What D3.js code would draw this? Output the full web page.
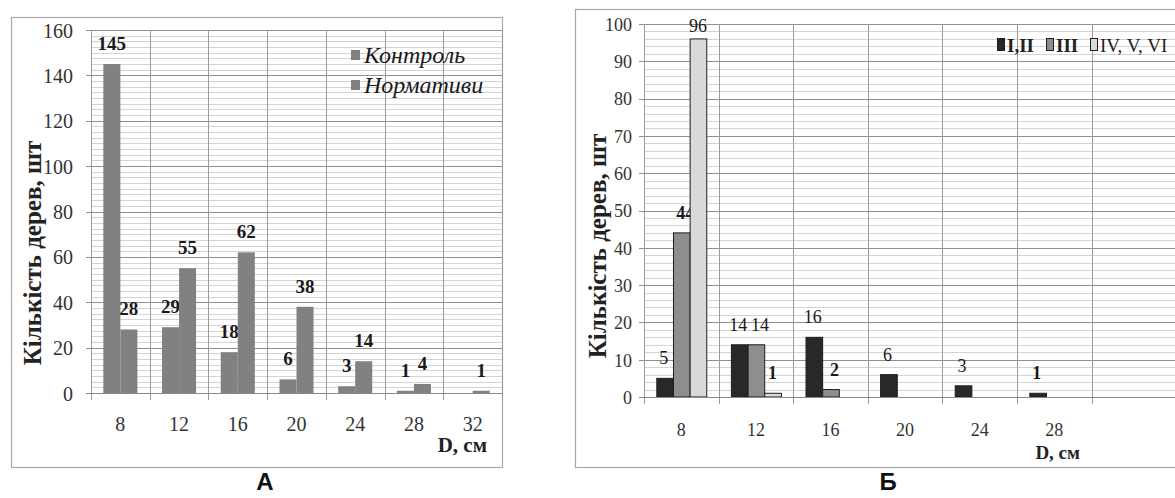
<!DOCTYPE html>
<html><head><meta charset="utf-8">
<script src="https://cdn.jsdelivr.net/npm/d3@7"></script>
<style>
body{margin:0;background:#fff;overflow:hidden}svg{display:block}
svg text{font-family:'Liberation Serif','Times New Roman',serif}
svg text.sans{font-family:'Liberation Sans',Arial,sans-serif}
</style>
</head><body>
<svg id="c" width="1175" height="498"></svg>
<script>
// ---------- DATA ----------
const catsA = [8, 12, 16, 20, 24, 28, 32];
const seriesA = ["Контроль", "Нормативи"];
const controlA = [145, 29, 18, 6, 3, 1, null];
const normsA = [28, 55, 62, 38, 14, 4, 1];
const yTicksA = [0, 20, 40, 60, 80, 100, 120, 140, 160];

const catsB = [8, 12, 16, 20, 24, 28];
const seriesB = ["I,II", "III", "IV, V, VI"];
const s12B = [5, 14, 16, 6, 3, 1];
const s3B = [44, 14, 2, null, null, null];
const s456B = [96, 1, null, null, null, null];
const boldB = [[false, false, false, false, false, true], [true, false, true], [false, true]];
const yTicksB = [0, 10, 20, 30, 40, 50, 60, 70, 80, 90, 100];

const yTitle = "Кількість дерев, шт";
const xTitle = "D, см";

// ---------- DRAW ----------
const svg = d3.select("#c");

function panel(o) {
  const g = svg.append("g");
  g.append("rect").attr("x", o.frame[0] + 0.5).attr("y", o.frame[1] + 0.5).attr("width", o.frame[2]).attr("height", o.frame[3])
    .attr("fill", "#fff").attr("stroke", "#a8a8a8").attr("stroke-width", 1.2);
  const x = d3.scaleBand().domain(o.cats).range([o.x0, o.x1]).padding(0);
  const y = d3.scaleLinear().domain([0, o.yMax]).range([o.yB, o.yT]);
  const minor = d3.range(0, o.yMax + 1e-9, o.minor);
  g.append("g").selectAll("line").data(minor).join("line")
    .attr("x1", o.x0).attr("x2", o.gridRight).attr("y1", d => Math.round(y(d)) + 0.5).attr("y2", d => Math.round(y(d)) + 0.5)
    .attr("stroke", "#d4d4d4").attr("stroke-width", 1);
  g.append("g").selectAll("line").data(o.yTicks).join("line")
    .attr("x1", o.x0 - 5).attr("x2", o.gridRight).attr("y1", d => Math.round(y(d)) + 0.5).attr("y2", d => Math.round(y(d)) + 0.5)
    .attr("stroke", "#8f8f8f").attr("stroke-width", 1);
  const bounds = o.cats.map(c => x(c)).concat([o.x1]);
  g.append("g").selectAll("line").data(bounds).join("line")
    .attr("x1", d => Math.round(d) + 0.5).attr("x2", d => Math.round(d) + 0.5)
    .attr("y1", o.yT).attr("y2", o.yB + 7)
    .attr("stroke", "#9a9a9a").attr("stroke-width", 1);
  const ya = d3.axisLeft(y).tickValues(o.yTicks).tickSize(0).tickPadding(0);
  const yg = g.append("g").attr("transform", `translate(${o.yLabX},0)`).call(ya);
  yg.attr("font-family", null);
  yg.select(".domain").remove();
  yg.selectAll("text").style("font-size", o.tickFont + "px").attr("fill", "#333").attr("dy", "0.35em");
  const xa = d3.axisBottom(x).tickSize(0).tickPadding(0);
  const xg = g.append("g").attr("transform", `translate(0,${o.xLabY})`).call(xa);
  xg.attr("font-family", null);
  xg.select(".domain").remove();
  xg.selectAll("text").style("font-size", o.tickFont + "px").attr("fill", "#333").attr("dy", "0.35em");
  const inner = d3.scaleBand().domain(d3.range(o.series.length))
    .range([(x.bandwidth() * (1 - o.groupFrac)) / 2, x.bandwidth() * (1 + o.groupFrac) / 2]).padding(0);
  o.values.forEach((vals, si) => {
    const bars = o.cats.map((c, i) => ({ c, v: vals[i], i })).filter(d => d.v !== null);
    g.append("g").selectAll("rect").data(bars).join("rect")
      .attr("x", d => x(d.c) + inner(si) + (o.stroke ? 0.5 : 0)).attr("width", inner.bandwidth())
      .attr("y", d => y(d.v)).attr("height", d => y(0) - y(d.v))
      .attr("fill", o.colors[si]).attr("stroke", o.stroke || "none").attr("stroke-width", o.stroke ? 1 : 0);
    g.append("g").selectAll("text").data(bars).join("text")
      .attr("x", d => x(d.c) + inner(si) + inner.bandwidth() / 2 + (o.labNudge ? o.labNudge[si] : 0))
      .attr("y", d => Math.max(y(d.v) - o.labOff, o.yT + 8))
      .attr("text-anchor", "middle").style("font-size", o.labFont + "px")
      .style("font-weight", d => o.bold ? (o.bold[si][d.i] ? "bold" : "normal") : "bold")
      .attr("fill", "#1a1a1a").text(d => d.v);
  });
  g.append("line").attr("x1", o.x0 - 5).attr("x2", o.gridRight).attr("y1", Math.round(y(0)) + 0.5).attr("y2", Math.round(y(0)) + 0.5)
    .attr("stroke", "#8a8a8a");
  g.append("text").attr("transform", `translate(${o.yTitleX},${o.yTitleY}) rotate(-90)`)
    .attr("text-anchor", "middle").attr("dy", "0.35em").style("font-weight", "bold")
    .style("font-size", o.yTitleFont + "px").attr("fill", "#222").text(yTitle);
  g.append("text").attr("x", o.xTitleX).attr("y", o.xTitleY).attr("text-anchor", "end")
    .style("font-weight", "bold").style("font-size", o.xTitleFont + "px").attr("fill", "#222").text(xTitle);
  g.append("text").attr("class", "sans").attr("x", o.letterX).attr("y", 490).attr("text-anchor", "middle")
    .style("font-weight", "bold").style("font-size", "24px").attr("fill", "#111").text(o.letter);
  return g;
}

const gA = panel({
  frame: [11, 17, 491, 450], cats: catsA, series: seriesA, values: [controlA, normsA],
  x0: 91, x1: 502, gridRight: 502, yB: 393, yT: 30, yMax: 160, minor: 2.5, yTicks: yTicksA,
  yLabX: 73, xLabY: 424, tickFont: 20, groupFrac: 0.58, colors: ["#818181", "#818181"],
  labOff: 14, labFont: 19, yTitleX: 32, yTitleY: 253, yTitleFont: 25,
  xTitleX: 487, xTitleY: 452, xTitleFont: 21, letter: "А", letterX: 265
});
const legA = gA.append("g");
seriesA.forEach((s, i) => {
  legA.append("rect").attr("x", 351).attr("y", 50 + i * 30).attr("width", 9).attr("height", 10).attr("fill", "#818181");
  legA.append("text").attr("x", 364).attr("y", 55 + i * 30).attr("dy", "0.35em")
    .style("font-style", "italic").style("font-size", "24px").attr("fill", "#1a1a1a").text(s);
});

const gB = panel({
  frame: [575, 9, 640, 458], cats: catsB, series: seriesB, values: [s12B, s3B, s456B],
  x0: 644, x1: 1091.6, gridRight: 1180, yB: 397, yT: 24, yMax: 100, minor: 2, yTicks: yTicksB,
  yLabX: 632, xLabY: 430, tickFont: 18, groupFrac: 0.67, colors: ["#282828", "#8e8e8e", "#d9d9d9"], stroke: "#1e1e1e",
  labOff: 14, labFont: 18, bold: boldB, labNudge: [-1, 4, 0], yTitleX: 597, yTitleY: 246, yTitleFont: 25,
  xTitleX: 1080, xTitleY: 459, xTitleFont: 19, letter: "Б", letterX: 888
});
const legB = gB.append("g");
const legBx = [997, 1046, 1090];
const legBbold = [true, true, false];
seriesB.forEach((s, i) => {
  legB.append("rect").attr("x", legBx[i] + 0.5).attr("y", 38.5).attr("width", 7).attr("height", 12)
    .attr("fill", ["#282828", "#8e8e8e", "#d9d9d9"][i]).attr("stroke", "#1e1e1e");
  legB.append("text").attr("x", legBx[i] + 10).attr("y", 45).attr("dy", "0.35em")
    .style("font-weight", legBbold[i] ? "bold" : "normal").style("font-size", "19px").attr("fill", "#222").text(s);
});
</script>
</body></html>
